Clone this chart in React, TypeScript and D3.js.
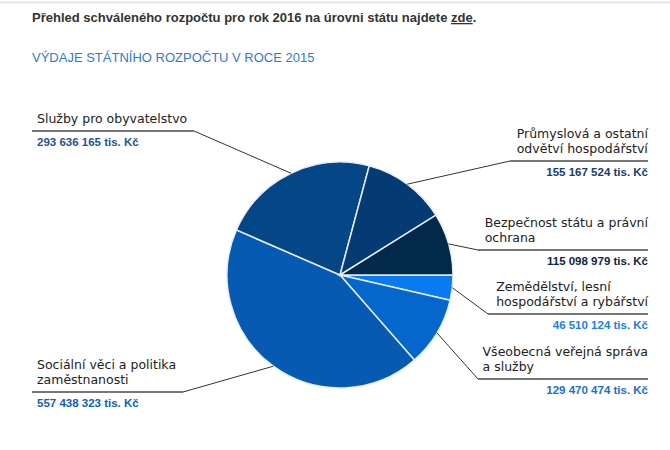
import React from "react";
import * as d3 from "d3";

const categories = [
  "Zemědělství, lesní hospodářství a rybářství",
  "Všeobecná veřejná správa a služby",
  "Sociální věci a politika zaměstnanosti",
  "Služby pro obyvatelstvo",
  "Průmyslová a ostatní odvětví hospodářství",
  "Bezpečnost státu a právní ochrana",
];
const values = [46510124, 129470474, 557438323, 293636165, 155167524, 115098979];
const valueLabels = [
  "46 510 124 tis. Kč",
  "129 470 474 tis. Kč",
  "557 438 323 tis. Kč",
  "293 636 165 tis. Kč",
  "155 167 524 tis. Kč",
  "115 098 979 tis. Kč",
];
const labelLines = [
  ["Zemědělství, lesní", "hospodářství a rybářství"],
  ["Všeobecná veřejná správa", "a služby"],
  ["Sociální věci a politika", "zaměstnanosti"],
  ["Služby pro obyvatelstvo"],
  ["Průmyslová a ostatní", "odvětví hospodářství"],
  ["Bezpečnost státu a právní", "ochrana"],
];
const colors = ["#0a7af0", "#0567cc", "#065ab2", "#044686", "#043b72", "#02284a"];
const valueColors = ["#1a80e6", "#1a6fd2", "#0d5fb8", "#1a5596", "#173d6e", "#0e2544"];

// layout: elbow point for each label line
const layout = [
  { ex: 488, ey: 314, side: "right" },
  { ex: 478, ey: 379, side: "right" },
  { ex: 183, ey: 392, side: "left" },
  { ex: 194, ey: 131, side: "left" },
  { ex: 510, ey: 161, side: "right" },
  { ex: 478, ey: 250, side: "right" },
];

const W = 670;
const H = 450;
const cx = 340;
const cy = 275;
const R = 113;
const leftX = 32;
const rightX = 648;
const labelFont = "12.5px 'DejaVu Sans'";

let ctx: CanvasRenderingContext2D | null = null;
function measure(t: string) {
  if (!ctx) {
    const c = document.createElement("canvas");
    ctx = c.getContext("2d");
  }
  if (!ctx) return t.length * 7;
  ctx.font = labelFont;
  return ctx.measureText(t).width;
}

export default function App() {
  const pie = d3
    .pie<number>()
    .sort(null)
    .value((d) => d)
    .startAngle(Math.PI / 2)
    .endAngle(Math.PI / 2 + 2 * Math.PI);
  const arcs = pie(values);
  const arc = d3.arc<d3.PieArcDatum<number>>().innerRadius(0).outerRadius(R);

  return (
    <svg
      width={W}
      height={H}
      style={{ position: "absolute", left: 0, top: 0, background: "#fff" }}
    >
      <rect x={0} y={0} width={W} height={H} fill="#fff" />
      <line x1={0} x2={W} y1={2.5} y2={2.5} stroke="#e6e6e6" strokeWidth={2} />
      <text
        x={32}
        y={22}
        fontFamily="Liberation Sans, Arial, sans-serif"
        fontWeight="bold"
        fontSize={13}
        fill="#333"
      >
        Přehled schváleného rozpočtu pro rok 2016 na úrovni státu najdete{" "}
        <tspan textDecoration="underline">zde</tspan>.
      </text>
      <text
        x={32}
        y={62}
        fontFamily="Liberation Sans, Arial, sans-serif"
        fontSize={13}
        fill="#2f7bd0"
      >
        VÝDAJE STÁTNÍHO ROZPOČTU V ROCE 2015
      </text>
      <g transform={`translate(${cx},${cy})`}>
        {arcs.map((a, i) => (
          <path key={categories[i]} d={arc(a) || ""} fill={colors[i]} stroke="#e8eef5" strokeWidth={1.5} />
        ))}
      </g>
      {arcs.map((a, i) => {
        const mid = (a.startAngle + a.endAngle) / 2;
        const sx = cx + Math.sin(mid) * R;
        const sy = cy - Math.cos(mid) * R;
        const L = layout[i];
        const right = L.side === "right";
        const endX = right ? rightX : leftX;
        const lines = labelLines[i];
        const blockW = Math.max(...lines.map(measure));
        const textX = right ? rightX - blockW : leftX + 5;
        const lh = 15.5;
        return (
          <g key={"lbl" + i}>
            <line x1={sx} y1={sy} x2={L.ex} y2={L.ey} stroke="#333" strokeWidth={1} />
            <line x1={L.ex} y1={L.ey} x2={endX} y2={L.ey} stroke="#777" strokeWidth={2} />
            {lines.map((t, j) => (
              <text
                key={j}
                x={textX}
                y={L.ey - 8 - (lines.length - 1 - j) * lh}
                textAnchor="start"
                fontFamily="DejaVu Sans, Verdana, sans-serif"
                fontSize={12.5}
                fill="#222"
              >
                {t}
              </text>
            ))}
            <text
              x={right ? rightX : leftX + 5}
              y={L.ey + 15}
              textAnchor={right ? "end" : "start"}
              fontFamily="Liberation Sans, Arial, sans-serif"
              fontWeight="bold"
              fontSize={11.5}
              fill={valueColors[i]}
            >
              {valueLabels[i]}
            </text>
          </g>
        );
      })}
    </svg>
  );
}
